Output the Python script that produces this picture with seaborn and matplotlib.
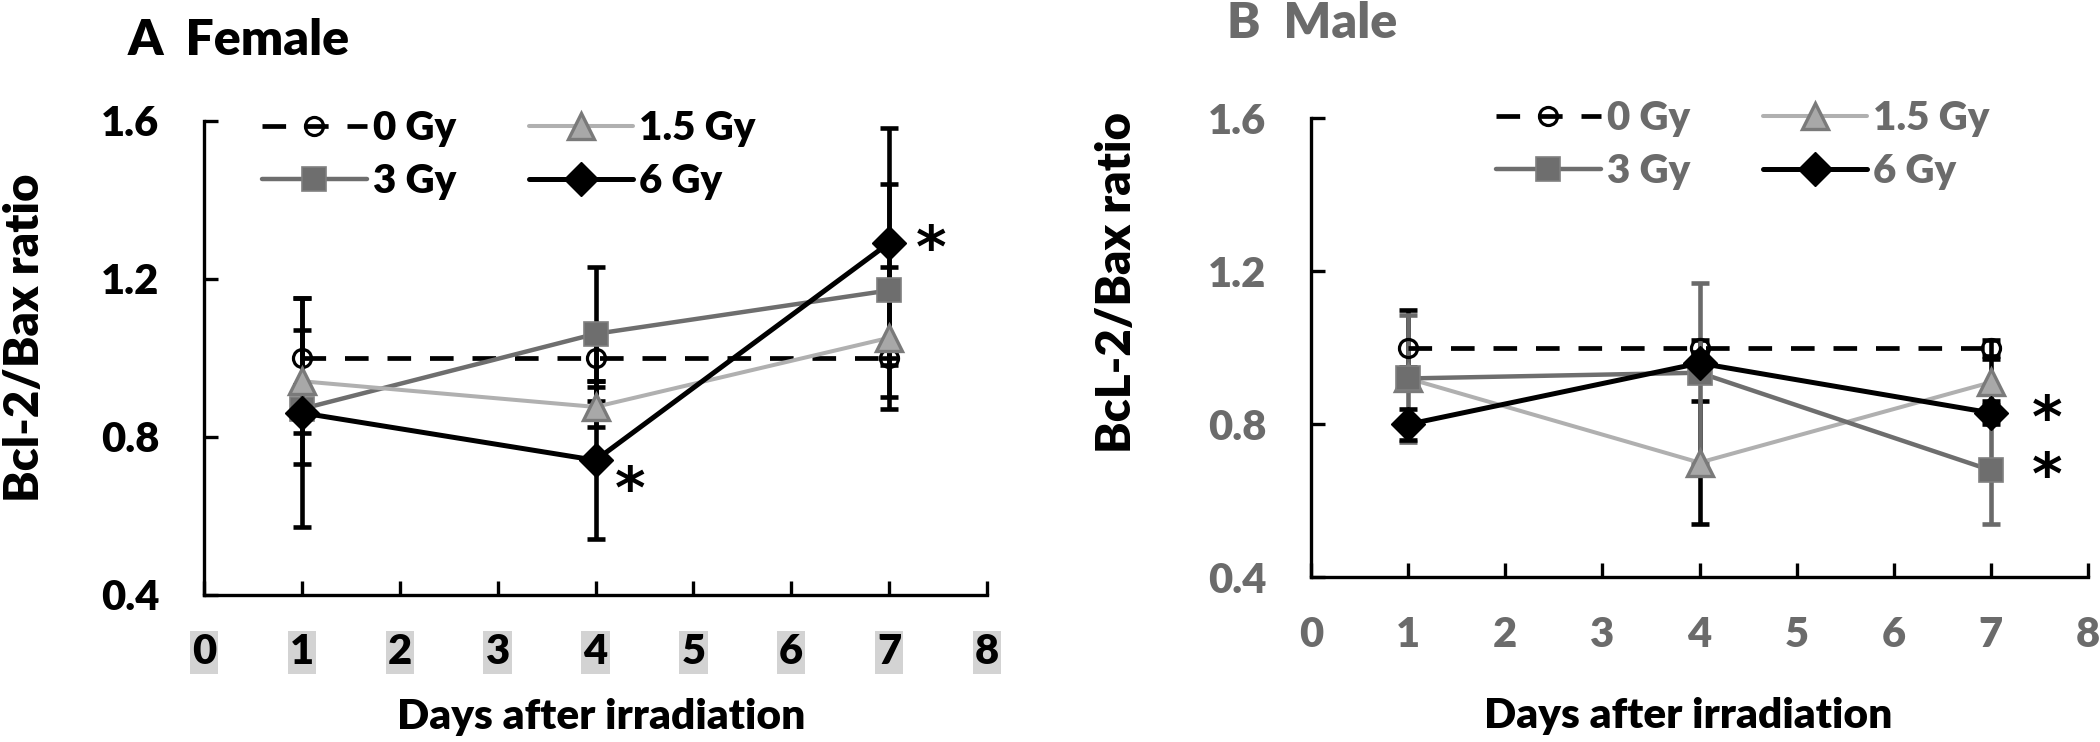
import numpy as np
import pandas as pd
import matplotlib
matplotlib.use("Agg")
import matplotlib.pyplot as plt
import seaborn as sns
from matplotlib.lines import Line2D

# ---------------- data ----------------
days = [1, 4, 7]
dose_labels = ["0 Gy", "1.5 Gy", "3 Gy", "6 Gy"]
x_ticks = [0, 1, 2, 3, 4, 5, 6, 7, 8]
y_ticks = [0.4, 0.8, 1.2, 1.6]

female_0 = [1.00, 1.00, 1.00]
female_15 = [0.94, 0.875, 1.05]
female_3 = [0.87, 1.06, 1.17]
female_6 = [0.86, 0.74, 1.29]
female_err_0 = [0.07, 0.06, 0.02]
female_err_15 = [0.21, 0.05, 0.18]
female_err_3 = [0.06, 0.17, 0.27]
female_err_6 = [0.29, 0.20, 0.29]

male_0 = [1.00, 1.00, 1.00]
male_15 = [0.92, 0.70, 0.91]
male_3 = [0.92, 0.935, 0.68]
male_6 = [0.80, 0.96, 0.83]
male_err_0 = [0.10, 0.02, 0.02]
male_err_15 = [0.03, 0.16, 0.06]
male_err_3 = [0.165, 0.235, 0.14]
male_err_6 = [0.04, 0.03, 0.03]

female_stars = [(4.35, 0.66), (7.43, 1.27)]
male_stars = [(7.58, 0.81), (7.58, 0.66)]

# ---------------- style ----------------
sns.set_theme(style="white")
plt.rcParams["font.family"] = ["Lato", "DejaVu Sans"]
WEIGHT = "heavy"
plt.rcParams["font.weight"] = WEIGHT

BLACK = "#000000"
LGRAY = "#b0b0b0"
TRI_EDGE = "#7a7a7a"
MGRAY = "#6e6e6e"
TXT_GRAY = "#6b6b6b"

styles = {
    "0 Gy": dict(color=BLACK, linestyle=(0, (5.0, 4.0)), linewidth=3.4, marker="o",
                 markersize=13, markerfacecolor="none", markeredgecolor=BLACK,
                 markeredgewidth=2.3),
    "1.5 Gy": dict(color=LGRAY, linestyle="-", linewidth=2.9, marker="^",
                   markersize=19, markerfacecolor="#a8a8a8", markeredgecolor=TRI_EDGE,
                   markeredgewidth=2.4),
    "3 Gy": dict(color=MGRAY, linestyle="-", linewidth=3.2, marker="s",
                 markersize=17, markerfacecolor=MGRAY, markeredgecolor="#808080",
                 markeredgewidth=1.2),
    "6 Gy": dict(color=BLACK, linestyle="-", linewidth=3.6, marker="D",
                 markersize=17, markerfacecolor=BLACK, markeredgecolor=BLACK,
                 markeredgewidth=1.0),
}

W, H = 2100, 742
fig = plt.figure(figsize=(W / 100, H / 100), dpi=100)
axA = fig.add_axes([204 / W, 1 - 594.6 / H, 783 / W, 474.1 / H])
axB = fig.add_axes([1311 / W, 1 - 577.4 / H, 777 / W, 459.1 / H])


def draw_panel(ax, series, errs, err_colors, order, tick_color, stars, boxed):
    # error bars (beneath lines)
    for lab in order:
        ax.errorbar(days, series[lab], yerr=errs[lab], fmt="none",
                    ecolor=err_colors[lab], elinewidth=3.3, capsize=6.5,
                    capthick=3.3, zorder=2)
    for lab in order:
        df = pd.DataFrame({"day": days, "ratio": series[lab]})
        st = styles[lab]
        sns.lineplot(data=df, x="day", y="ratio", ax=ax, sort=False,
                     color=st["color"], linestyle=st["linestyle"],
                     linewidth=st["linewidth"], marker=st["marker"],
                     markersize=st["markersize"],
                     markerfacecolor=st["markerfacecolor"],
                     markeredgecolor=st["markeredgecolor"],
                     markeredgewidth=st["markeredgewidth"], zorder=3,
                     legend=False)
    ax.set_xlim(0, 8)
    ax.set_ylim(0.4, 1.6)
    ax.set_xticks(x_ticks)
    ax.set_yticks(y_ticks)
    ax.set_xticklabels([str(t) for t in x_ticks])
    ax.set_yticklabels([f"{t:.1f}" for t in y_ticks])
    ax.set_xlabel("")
    ax.set_ylabel("")
    for s in ["top", "right"]:
        ax.spines[s].set_visible(False)
    for s in ["left", "bottom"]:
        ax.spines[s].set_color(BLACK)
        ax.spines[s].set_linewidth(2.4)
    ax.tick_params(axis="both", direction="in", length=10, width=2.4,
                   colors=BLACK, labelcolor=tick_color, labelsize=30)
    ax.tick_params(axis="y", pad=32)
    ax.tick_params(axis="x", pad=28)
    ax.xaxis.set_ticks_position("bottom")
    ax.yaxis.set_ticks_position("left")
    for lbl in ax.get_xticklabels() + ax.get_yticklabels():
        lbl.set_fontweight(WEIGHT)
    if boxed:
        for lbl in ax.get_xticklabels():
            lbl.set_bbox(dict(facecolor="#d3d3d3", edgecolor="none", pad=1.5))
    for (sx, sy) in stars:
        ax.text(sx, sy, "*", fontsize=42, fontweight="bold", color=BLACK,
                ha="center", va="center", family=["DejaVu Sans"])


draw_panel(
    axA,
    {"0 Gy": female_0, "1.5 Gy": female_15, "3 Gy": female_3, "6 Gy": female_6},
    {"0 Gy": female_err_0, "1.5 Gy": female_err_15, "3 Gy": female_err_3,
     "6 Gy": female_err_6},
    {"0 Gy": BLACK, "1.5 Gy": BLACK, "3 Gy": BLACK, "6 Gy": BLACK},
    ["0 Gy", "3 Gy", "1.5 Gy", "6 Gy"], BLACK, female_stars, True)

draw_panel(
    axB,
    {"0 Gy": male_0, "1.5 Gy": male_15, "3 Gy": male_3, "6 Gy": male_6},
    {"0 Gy": male_err_0, "1.5 Gy": male_err_15, "3 Gy": male_err_3,
     "6 Gy": male_err_6},
    {"0 Gy": BLACK, "1.5 Gy": BLACK, "3 Gy": "#6a6a6a", "6 Gy": BLACK},
    ["0 Gy", "1.5 Gy", "3 Gy", "6 Gy"], TXT_GRAY, male_stars, False)


def make_handles():
    hs = []
    for lab in ["0 Gy", "3 Gy", "1.5 Gy", "6 Gy"]:
        st = styles[lab]
        hs.append(Line2D([], [], color=st["color"], linestyle=st["linestyle"],
                         linewidth=st["linewidth"], marker=st["marker"],
                         markersize=st["markersize"],
                         markerfacecolor=st["markerfacecolor"],
                         markeredgecolor=st["markeredgecolor"],
                         markeredgewidth=st["markeredgewidth"], label=lab))
    return hs


for ax, anchor, tcol in [(axA, (262 / W, 1 - 110 / H), BLACK),
                         (axB, (1496 / W, 1 - 100 / H), TXT_GRAY)]:
    leg = ax.legend(handles=make_handles(), loc="upper left", ncol=2,
                    bbox_to_anchor=anchor, bbox_transform=fig.transFigure,
                    frameon=False, borderpad=0, borderaxespad=0,
                    handlelength=2.6, handletextpad=0.15, columnspacing=1.8,
                    labelspacing=0.4, numpoints=1,
                    prop={"size": 29, "weight": WEIGHT})
    for t in leg.get_texts():
        t.set_color(tcol)

# titles
fig.text(128 / W, 1 - 55 / H, "A  Female", fontsize=36, fontweight=WEIGHT,
         color=BLACK, ha="left", va="baseline")
fig.text(1227 / W, 1 - 38 / H, "B  Male", fontsize=36, fontweight=WEIGHT,
         color=TXT_GRAY, ha="left", va="baseline")

# axis labels
fig.text(25 / W, 1 - 338 / H, "Bcl-2/Bax ratio", fontsize=34, fontweight=WEIGHT,
         rotation=90, ha="center", va="center", color=BLACK)
fig.text(1117 / W, 1 - 283 / H, "BcL-2/Bax ratio", fontsize=34, fontweight=WEIGHT,
         rotation=90, ha="center", va="center", color=BLACK)
fig.text(601 / W, 1 - 729 / H, "Days after irradiation", fontsize=30.5,
         fontweight=WEIGHT, ha="center", va="baseline", color=BLACK)
fig.text(1688 / W, 1 - 728 / H, "Days after irradiation", fontsize=30.5,
         fontweight=WEIGHT, ha="center", va="baseline", color=BLACK)

fig.savefig("out.png", dpi=100)
